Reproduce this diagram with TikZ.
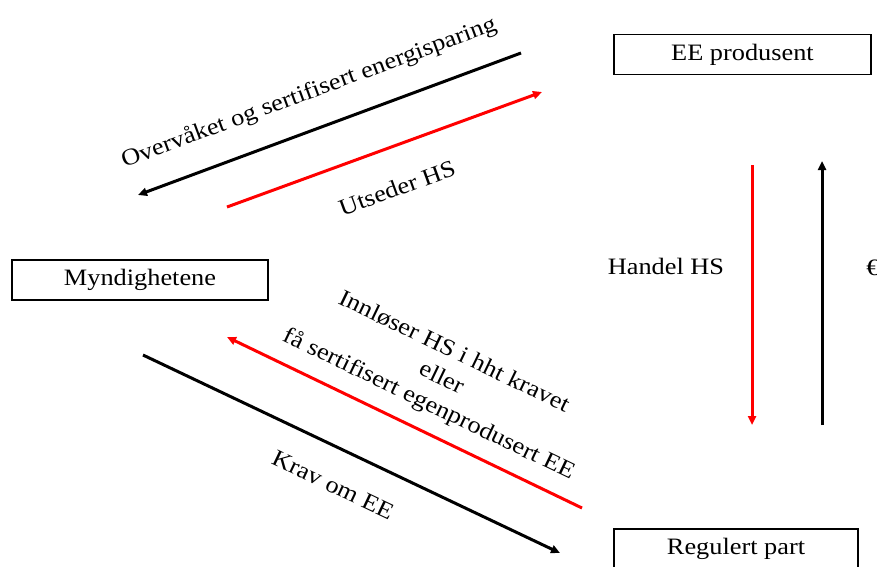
\documentclass[tikz,border=0pt]{standalone}
\usepackage{fontspec}
\setmainfont{Liberation Serif}[FakeStretch=1.12]
\usetikzlibrary{arrows.meta}
\begin{document}
\begin{tikzpicture}[x=1pt,y=-1pt,
  box/.style={draw,line width=1.6pt,minimum height=40pt,inner sep=0pt,font=\fontsize{23.5}{27}\selectfont},
  lbl/.style={font=\fontsize{23.5}{29}\selectfont,inner sep=0pt,align=center},
  arr/.style={line width=3pt,-{Triangle[length=9pt,width=8pt]}},
  redarr/.style={arr,red}]
\useasboundingbox (0,0) rectangle (877,566);
\node[box,minimum width=257pt] (ee) at (742.5,54.5) {EE produsent};
\node[box,minimum width=256pt] (myn) at (140,280) {Myndighetene};
\node[box,minimum width=244pt] (reg) at (736,549) {Regulert part};
% connector end points
\coordinate (a1s) at (521,53);  \coordinate (a1e) at (138,195);
\coordinate (a2s) at (227,207); \coordinate (a2e) at (542,92);
\coordinate (a3s) at (582,508); \coordinate (a3e) at (227,337);
\coordinate (a4s) at (143,355); \coordinate (a4e) at (560,553);
\coordinate (a5s) at (752,165); \coordinate (a5e) at (752,425);
\coordinate (a6s) at (822,425); \coordinate (a6e) at (822,161);
\draw[arr] (a1s) -- (a1e);
\draw[redarr] (a2s) -- (a2e);
\draw[redarr] (a3s) -- (a3e);
\draw[arr] (a4s) -- (a4e);
\draw[redarr] (a5s) -- (a5e);
\draw[arr] (a6s) -- (a6e);
\node[lbl,rotate=20.3] (l1) at (309,93) {Overvåket og sertifisert energisparing};
\node[lbl,rotate=20] (l2) at (397,188) {Utseder HS};
\node[lbl,rotate=-25.7] (l3) at (441,379) {Innløser HS i hht kravet\\eller\\få sertifisert egenprodusert EE};
\node[lbl,rotate=-25.4] (l4) at (333,485) {Krav om EE};
\node[lbl] (l5) at (666,266) {Handel HS};
\node[lbl] (l6) at (873,268) {€};
\end{tikzpicture}
\end{document}
